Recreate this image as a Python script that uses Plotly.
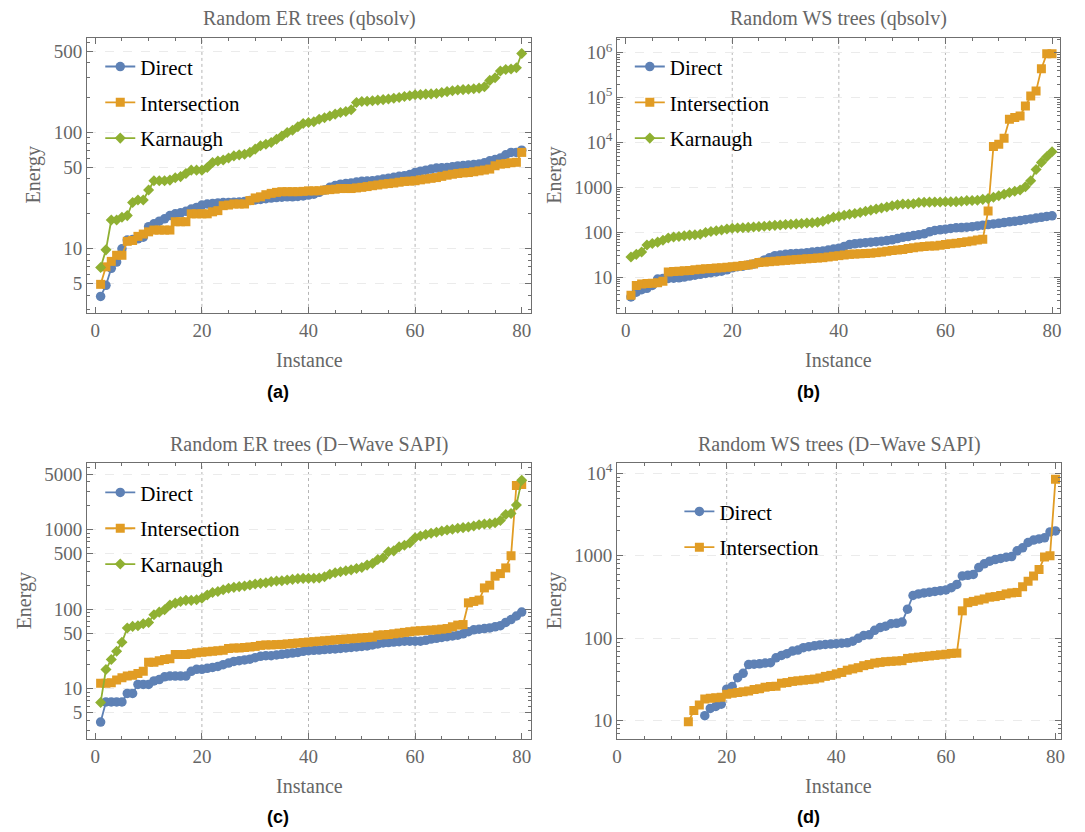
import plotly.graph_objects as go

# ---------------- data ----------------
instances = list(range(1, 81))

er_qbsolv_direct = [3.9, 4.85, 6.8, 7.7, 10, 11.9, 12, 12.2, 12.6, 15.5,
    16.4, 17.3, 18.1, 19.3, 20, 20.4, 21, 22, 22.7, 23.8,
    24.3, 24.5, 24.8, 25, 25, 25.2, 25.3, 25.5, 26, 26.3,
    26.6, 27, 27.3, 27.6, 27.8, 28, 28, 28.2, 28.5, 29,
    29.5, 30.6, 32, 33.8, 35, 36, 36.4, 36.8, 37.5, 38.1,
    38.3, 38.5, 39, 39.8, 40.5, 41.2, 42, 42.6, 43.5, 45.4,
    46.5, 47.5, 48.5, 49.5, 49.8, 50, 50.8, 51.6, 52, 52.6,
    53, 53.6, 55, 57.2, 58.5, 60.3, 64.4, 67.4, 67.5, 70.5]
er_qbsolv_inter = [4.95, 7, 7.8, 8.8, 8.8, 11.6, 11.8, 12.8, 13.4, 14,
    14.5, 14.5, 14.5, 14.5, 17.1, 17.1, 17.1, 20, 20, 20,
    20, 20.8, 21.3, 23.5, 23.8, 24.3, 24.3, 24.3, 26, 27.4,
    28, 29.2, 30, 30.6, 31, 31, 31, 31, 31.2, 31.5,
    31.5, 31.6, 32, 32.3, 32.6, 33, 33, 33, 33.4, 33.8,
    34.3, 34.9, 35.4, 36, 36.4, 36.8, 37.4, 38, 38.2, 38.5,
    39.2, 39.8, 40.4, 41, 42, 43, 43.8, 44.5, 45, 45.3,
    46, 46.8, 47.6, 48.5, 51.8, 53.5, 54, 55, 55.5, 67.5]
er_qbsolv_karn = [6.9, 9.8, 17.7, 17.7, 18.7, 19.3, 25, 26.3, 26.3, 32,
    38.5, 38.5, 38.5, 39, 40.8, 41.8, 44.5, 47.5, 47.5, 47.5,
    50, 55.3, 57, 58, 60.3, 63, 64.3, 65, 67.5, 72,
    76.9, 79.4, 82, 87.6, 93.5, 100, 104.8, 112, 119.5, 122,
    124, 130, 134, 139, 144, 149, 152, 157, 181, 185,
    186, 188, 190, 192, 194, 197, 200, 204, 207, 211,
    212, 214, 215, 217, 221, 225, 229, 232, 234, 236,
    238, 241, 248, 281, 296, 338, 349, 352, 361, 479]

ws_qbsolv_direct = [3.6, 4.6, 5.2, 5.6, 6.5, 9, 9.3, 9.3, 9.4, 9.6,
    10, 10.5, 11, 11.5, 12, 12.5, 13, 13.5, 14.5, 16,
    17, 17.5, 18.5, 19.5, 21, 24, 27, 30, 31, 32,
    33, 33.5, 34, 35, 36, 37, 38, 40, 42, 44,
    48, 53, 55, 57, 58.5, 60, 61.5, 63, 65, 67.5,
    72, 77, 80, 84, 88, 92, 102, 109, 113, 117,
    121, 125, 127, 129, 133, 138, 143, 148, 153, 158,
    164, 170, 176, 182, 190, 198, 206, 215, 225, 232]
ws_qbsolv_inter = [3.9, 6.5, 7, 7.2, 7.3, 7.5, 8, 13, 13.2, 13.5,
    13.8, 14, 14.5, 15, 15.2, 15.5, 15.8, 16, 16.5, 17,
    17.5, 18, 18.5, 19.5, 21, 21.5, 22, 22.5, 23, 23.5,
    24, 24.5, 25, 25.5, 26, 26.5, 27, 28, 29, 30,
    31, 32, 32.5, 33, 33.5, 34, 35, 36, 37.5, 39,
    40, 41, 43, 45, 46.5, 48, 49, 49.5, 51, 53,
    55, 57, 59, 61, 64, 67, 70, 295, 8150, 9200,
    12500, 33000, 36000, 39000, 65000, 109000, 140000, 440000, 950000, 960000]
ws_qbsolv_karn = [28, 32, 36, 52, 56, 60, 66, 74, 78, 80,
    83, 86, 88, 90, 98, 104, 108, 112, 118, 122,
    124, 126, 128, 130, 133, 136, 139, 142, 145, 148,
    150, 153, 156, 160, 163, 166, 175, 195, 215, 225,
    238, 250, 262, 275, 292, 310, 328, 345, 365, 390,
    410, 425, 426, 430, 460, 465, 468, 470, 472, 475,
    478, 480, 492, 505, 510, 518, 540, 560, 600, 650,
    700, 770, 820, 870, 1035, 1400, 2500, 3600, 4800, 6200]

er_sapi_direct = [3.8, 6.8, 6.8, 6.8, 6.8, 8.7, 8.7, 11.3, 11.3, 11.3,
    12.5, 13, 14.1, 14.4, 14.4, 14.4, 14.4, 16.5, 17.5, 17.5,
    18, 18.5, 19, 20, 21, 22, 22.5, 23, 23.5, 24.5,
    25.5, 26, 26, 26.5, 27, 27.5, 28, 28.5, 29.5, 30,
    30.3, 30.6, 31, 31.3, 31.6, 32, 32.5, 33, 33.5, 34,
    34.5, 35.5, 36.5, 37.5, 38, 38.5, 39, 39.5, 39.5, 39.5,
    39.5, 40.5, 42, 43, 44, 45, 46, 47, 49, 52,
    55, 56, 57, 58, 60, 62, 68, 74, 82, 92]
er_sapi_inter = [11.7, 11.7, 11.9, 12.8, 13.7, 14.4, 14.7, 15.5, 16.6, 21.5,
    21.5, 22.4, 23.3, 23.7, 26.8, 26.8, 26.8, 27.5, 28.2, 28.7,
    29.2, 29.6, 30, 30.5, 32, 32.5, 32.5, 33, 33.5, 34,
    35, 35.5, 35.5, 35.8, 36, 36.5, 37, 37.5, 38, 38.5,
    39, 39.5, 40, 40.5, 41, 41.5, 42, 42.5, 43, 43.5,
    44, 44.5, 47, 47.5, 48, 49, 50, 51, 52, 53,
    53.5, 54, 54.5, 55, 56, 57, 60, 63, 64, 120,
    125, 130, 185, 200, 260, 280, 330, 470, 3600, 3700]
er_sapi_karn = [6.7, 17.4, 23.3, 29.6, 38.3, 57.9, 60.7, 61.7, 65.6, 68.1,
    85, 91.7, 98, 113, 119, 125, 129, 129, 131, 137,
    151, 162, 167, 175, 183, 188, 192, 196, 201, 207,
    211, 215, 222, 226, 228, 233, 237, 242, 244, 244,
    245, 247, 256, 275, 287, 295, 304, 312, 325, 335,
    358, 376, 422, 442, 526, 541, 607, 637, 680, 790,
    830, 870, 900, 930, 960, 990, 1010, 1040, 1060, 1080,
    1110, 1150, 1180, 1190, 1220, 1300, 1550, 1600, 2040, 4170]

ws_sapi_direct_x = list(range(16, 81))
ws_sapi_direct = [11.5, 14.1, 14.9, 15.9, 24.1, 26, 33.3, 37.6, 48, 48.5,
    49, 50, 50.6, 58, 62, 65, 70, 72, 77, 79, 81, 83, 84, 85,
    86, 87, 88, 92, 100, 108, 110, 125, 135, 140, 150,
    152, 157, 225, 330, 345, 355, 362, 370, 378, 385,
    410, 450, 570, 580, 595, 720, 800, 860, 900, 930,
    960, 980, 1150, 1250, 1450, 1550, 1600, 1650, 1950, 2000]
ws_sapi_inter_x = list(range(13, 81))
ws_sapi_inter = [9.7, 13.3, 15.5, 18.3, 18.8, 19, 19.3, 21, 21.5, 22, 22.5, 23, 24, 24.5,
    25.5, 26, 26.2, 28.5, 29, 30, 30.5, 31, 31.5, 32, 33, 34.5, 35.5,
    37, 38.5, 41, 42.5, 44, 46.5, 48, 50, 51, 52, 52.5, 53, 53.5, 57, 58, 59, 60, 61, 62, 63, 64,
    65.5, 66, 215, 270, 280, 290, 300, 315, 320, 330, 345, 355, 360, 420, 490, 570, 680, 970, 1000, 8500]

panel_titles = ["Random ER trees (qbsolv)", "Random WS trees (qbsolv)",
                "Random ER trees (D\u2212Wave SAPI)", "Random WS trees (D\u2212Wave SAPI)"]
panel_labels = ["(a)", "(b)", "(c)", "(d)"]
x_ticks = [0, 20, 40, 60, 80]
y_ticks_a = [5, 10, 50, 100, 500]
y_ticks_b = [10, 100, 1000, 1e4, 1e5, 1e6]
y_text_b = ["10", "100", "1000", "10<sup>4</sup>", "10<sup>5</sup>", "10<sup>6</sup>"]
y_ticks_c = [5, 10, 50, 100, 500, 1000, 5000]
y_ticks_d = [10, 100, 1000, 1e4]
y_text_d = ["10", "100", "1000", "10<sup>4</sup>"]

# ---------------- style ----------------
PAGE_OFF = 8              # page body margin in the browser
W, H = 1085 - PAGE_OFF, 832 - PAGE_OFF
SERIF = "Liberation Serif, Times New Roman, serif"
FRAME = "#6f6f6f"
TICKC = "#666666"
C_DIR, C_INT, C_KAR = "#5E81B5", "#E19C24", "#8FB032"

def px(x):
    return (x - PAGE_OFF) / W

def py(y):
    return 1 - (y - PAGE_OFF) / H

fig = go.Figure()

def add_series(ax, leg, x, y, name, color, symbol, size):
    fig.add_trace(go.Scatter(
        x=x, y=y, name=name, mode="lines+markers",
        line=dict(color=color, width=1.8),
        marker=dict(symbol=symbol, size=size, color=color),
        xaxis="x" + ax, yaxis="y" + ax, legend=leg,
        legendgroup=leg + name))

add_series("", "legend", instances, er_qbsolv_direct, "Direct", C_DIR, "circle", 9.5)
add_series("", "legend", instances, er_qbsolv_inter, "Intersection", C_INT, "square", 9)
add_series("", "legend", instances, er_qbsolv_karn, "Karnaugh", C_KAR, "diamond", 8.5)
add_series("2", "legend2", instances, ws_qbsolv_direct, "Direct", C_DIR, "circle", 9.5)
add_series("2", "legend2", instances, ws_qbsolv_inter, "Intersection", C_INT, "square", 9)
add_series("2", "legend2", instances, ws_qbsolv_karn, "Karnaugh", C_KAR, "diamond", 8.5)
add_series("3", "legend3", instances, er_sapi_direct, "Direct", C_DIR, "circle", 9.5)
add_series("3", "legend3", instances, er_sapi_inter, "Intersection", C_INT, "square", 9)
add_series("3", "legend3", instances, er_sapi_karn, "Karnaugh", C_KAR, "diamond", 8.5)
add_series("4", "legend4", ws_sapi_direct_x, ws_sapi_direct, "Direct", C_DIR, "circle", 9.5)
add_series("4", "legend4", ws_sapi_inter_x, ws_sapi_inter, "Intersection", C_INT, "square", 9)

def xaxis(domain, rng, anchor):
    return dict(domain=domain, range=rng, anchor=anchor, tickvals=x_ticks,
                ticks="inside", ticklen=6, tickcolor=FRAME, showline=True,
                linecolor=FRAME, linewidth=1, mirror="ticks", showgrid=False,
                zeroline=False, ticklabelstandoff=0,
                tickfont=dict(family=SERIF, size=19, color=TICKC),
                minor=dict(dtick=5, ticks="inside", ticklen=3, tickcolor=FRAME))

def yaxis(domain, rng, anchor, tv, tt=None):
    d = dict(domain=domain, range=rng, anchor=anchor, type="log", tickvals=tv,
             ticks="inside", ticklen=6, tickcolor=FRAME, showline=True,
             linecolor=FRAME, linewidth=1, mirror="ticks", showgrid=True,
             gridcolor="#ebebeb", griddash="dash", gridwidth=1, zeroline=False,
             tickfont=dict(family=SERIF, size=19, color=TICKC),
             minor=dict(dtick="D1", ticks="inside", ticklen=3, tickcolor=FRAME))
    if tt is not None:
        d["ticktext"] = tt
    return d

dom_x_left = [px(82.6), px(530.3)]
dom_x_right_top = [px(617.2), px(1064.2)]
dom_x_right_bot = [px(617.2), px(1064.8)]
dom_y_top = [py(311), py(35)]
dom_y_bot = [py(738.7), py(462)]

legend_common = dict(xanchor="left", yanchor="top", bgcolor="rgba(0,0,0,0)",
                     font=dict(family=SERIF, size=21, color="black"),
                     tracegroupgap=5.5, itemwidth=30)

fig.update_layout(
    width=W, height=H, autosize=False,
    margin=dict(l=0, r=0, t=0, b=0),
    paper_bgcolor="white", plot_bgcolor="white",
    xaxis=xaxis(dom_x_left, [-1.56, 81.73], "y"),
    yaxis=yaxis(dom_y_top, [0.449, 2.814], "x", y_ticks_a),
    xaxis2=xaxis(dom_x_right_top, [-1.6, 81.56], "y2"),
    yaxis2=yaxis(dom_y_top, [0.2, 6.333], "x2", y_ticks_b, y_text_b),
    xaxis3=xaxis(dom_x_left, [-1.56, 81.73], "y3"),
    yaxis3=yaxis(dom_y_bot, [0.366, 3.834], "x3", y_ticks_c),
    xaxis4=xaxis(dom_x_right_bot, [0, 81.0], "y4"),
    yaxis4=yaxis(dom_y_bot, [0.778, 4.121], "x4", y_ticks_d, y_text_d),
    legend=dict(x=px(96), y=py(43.5), **legend_common),
    legend2=dict(x=px(630), y=py(43.5), **legend_common),
    legend3=dict(x=px(96), y=py(471), **legend_common),
    legend4=dict(x=px(680), y=py(490), **legend_common),
)

# vertical dotted grid lines
shapes = []
for ax in ["", "2", "3", "4"]:
    for gx in [20, 40, 60]:
        shapes.append(dict(type="line", xref="x" + ax, yref=("y" + ax) + " domain",
                           x0=gx, x1=gx, y0=0, y1=1, layer="below",
                           line=dict(color="#b5b5b5", width=1, dash="dot")))
fig.update_layout(shapes=shapes)

annotations = []
title_pos = [(306.5, 16), (840.8, 16), (306.5, 443.3), (841, 443.3)]
for t, (x, y) in zip(panel_titles, title_pos):
    annotations.append(dict(text=t, x=px(x), y=py(y), xref="paper", yref="paper",
                            showarrow=False, xanchor="center", yanchor="middle",
                            font=dict(family=SERIF, size=20, color="#666666")))
inst_pos = [(306.5, 358), (840.7, 358), (306.5, 785.7), (840.7, 785.7)]
for x, y in inst_pos:
    annotations.append(dict(text="Instance", x=px(x), y=py(y), xref="paper", yref="paper",
                            showarrow=False, xanchor="center", yanchor="middle",
                            font=dict(family=SERIF, size=20, color="#666666")))
energy_pos = [(28.2, 173), (554, 173), (19.6, 600), (554, 600)]
for x, y in energy_pos:
    annotations.append(dict(text="Energy", x=px(x), y=py(y), xref="paper", yref="paper",
                            showarrow=False, xanchor="center", yanchor="middle", textangle=-90,
                            font=dict(family=SERIF, size=20, color="#666666")))
lab_pos = [(275.5, 390.7), (810, 390.7), (275.5, 816.7), (810, 816.7)]
for t, (x, y) in zip(panel_labels, lab_pos):
    annotations.append(dict(text="<b>" + t + "</b>", x=px(x), y=py(y), xref="paper", yref="paper",
                            showarrow=False, xanchor="center", yanchor="middle",
                            font=dict(family="Liberation Sans, Arial, sans-serif", size=18, color="black")))
fig.update_layout(annotations=annotations)

fig.write_html("out.html")
